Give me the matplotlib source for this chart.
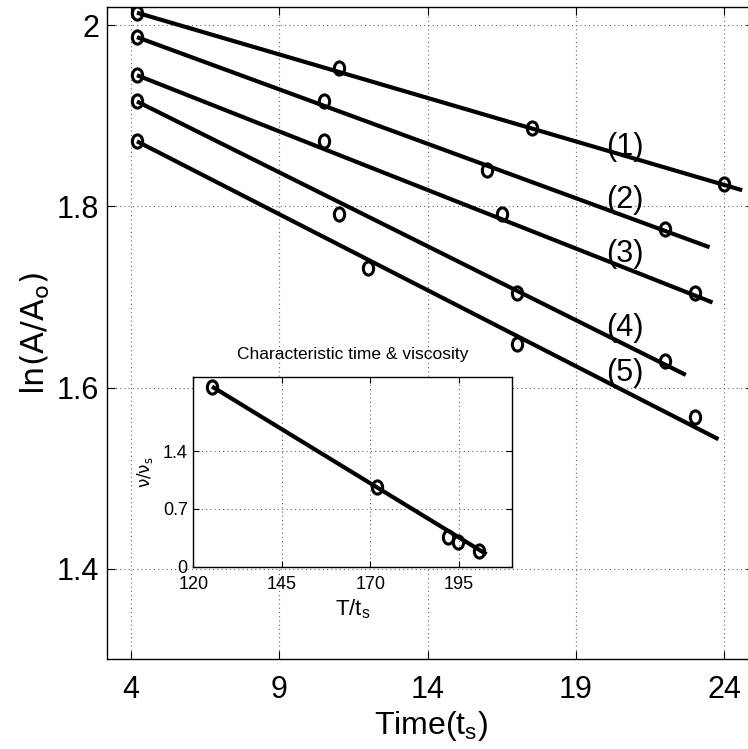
import matplotlib
matplotlib.use("Agg")
import matplotlib.pyplot as plt
from matplotlib.path import Path
from matplotlib.transforms import Affine2D
import numpy as np

# ---------------- data ----------------
s1_x = [4.2, 11.0, 17.5, 24.0]
s1_y = [2.014, 1.953, 1.887, 1.825]
s2_x = [4.2, 10.5, 16.0, 22.0]
s2_y = [1.987, 1.917, 1.840, 1.775]
s3_x = [4.2, 10.5, 16.5, 23.0]
s3_y = [1.945, 1.872, 1.792, 1.705]
s4_x = [4.2, 11.0, 17.0, 22.0]
s4_y = [1.916, 1.792, 1.705, 1.629]
s5_x = [4.2, 12.0, 17.0, 23.0]
s5_y = [1.872, 1.732, 1.648, 1.568]

# fitted straight lines: start / end points
fit_x0 = [4.2, 4.2, 4.2, 4.2, 4.2]
fit_y0 = [2.014, 1.987, 1.945, 1.916, 1.872]
fit_x1 = [24.6, 23.5, 23.6, 22.7, 23.8]
fit_y1 = [1.818, 1.755, 1.694, 1.614, 1.543]

curve_labels = ["(1)", "(2)", "(3)", "(4)", "(5)"]
label_x = [20.65, 20.65, 20.65, 20.65, 20.65]
label_y = [1.866, 1.807, 1.747, 1.666, 1.616]

main_xticks = [4, 9, 14, 19, 24]
main_yticks = [1.4, 1.6, 1.8, 2.0]
main_yticklabels = ["1.4", "1.6", "1.8", "2"]

# inset data
in_x = [125.3, 171.9, 192.0, 194.8, 200.7]
in_y = [2.18, 0.96, 0.36, 0.30, 0.19]
in_fit_x = [125.3, 202.8]
in_fit_y = [2.18, 0.15]
in_xticks = [120, 145, 170, 195]
in_yticks = [0, 0.7, 1.4]
in_yticklabels = ["0", "0.7", "1.4"]

# ---------------- style ----------------
plt.rcParams["font.family"] = ["Liberation Sans", "DejaVu Sans"]
plt.rcParams["mathtext.fontset"] = "custom"
plt.rcParams["mathtext.rm"] = "Liberation Sans"

# slightly tall ellipse marker (original figure was stretched vertically)
ell = Path.unit_circle().transformed(Affine2D().scale(0.78, 1.0))

grid_kw = dict(color="0.4", linestyle=(0, (1, 2.8)), linewidth=0.8)

fig = plt.figure(figsize=(7.48, 7.49), dpi=100)
ax = fig.add_axes([0.1434, 0.1198, 0.8647, 0.8705])

series = [(s1_x, s1_y), (s2_x, s2_y), (s3_x, s3_y), (s4_x, s4_y), (s5_x, s5_y)]
for i, (sx, sy) in enumerate(series):
    ax.plot([fit_x0[i], fit_x1[i]], [fit_y0[i], fit_y1[i]], color="black",
            linewidth=3.0, solid_capstyle="butt", zorder=3)
    ax.plot(sx, sy, linestyle="none", marker=ell, markersize=9.5,
            markerfacecolor="none", markeredgecolor="black",
            markeredgewidth=2.2, zorder=4)
    ax.text(label_x[i], label_y[i], curve_labels[i], fontsize=22,
            ha="center", va="center", zorder=5)

ax.set_xlim(3.2, 25)
ax.set_ylim(1.3, 2.02)
ax.set_xticks(main_xticks)
ax.set_xticklabels([str(t) for t in main_xticks])
ax.set_yticks(main_yticks)
ax.set_yticklabels(main_yticklabels)
ax.tick_params(direction="in", length=6, width=0.8, top=True, right=True,
               labelsize=22)
ax.tick_params(axis="x", pad=11)
ax.tick_params(axis="y", pad=6)
ax.grid(True, **grid_kw)
for sp in ax.spines.values():
    sp.set_linewidth(1.0)

ax.set_xlabel("Time(t$_\\mathregular{s}$)", fontsize=23, labelpad=3)
ax.set_ylabel("ln(A/A$_\\mathregular{o}$)", fontsize=23,
              family=["DejaVu Sans"], labelpad=3)

# ---------------- inset ----------------
axin = fig.add_axes([0.2584, 0.2434, 0.4261, 0.2537])
axin.set_facecolor("white")
axin.plot(in_fit_x, in_fit_y, color="black", linewidth=3.0,
          solid_capstyle="butt", zorder=3)
axin.plot(in_x, in_y, linestyle="none", marker=ell, markersize=9.5,
          markerfacecolor="none", markeredgecolor="black",
          markeredgewidth=2.2, zorder=4)
axin.set_xlim(120, 210)
axin.set_ylim(0, 2.3)
axin.set_xticks(in_xticks)
axin.set_xticklabels([str(t) for t in in_xticks])
axin.set_yticks(in_yticks)
axin.set_yticklabels(in_yticklabels)
axin.tick_params(direction="in", length=4, width=0.8, top=True, right=True,
                 labelsize=13)
axin.tick_params(axis="x", pad=7)
axin.tick_params(axis="y", pad=4)
axin.grid(True, **grid_kw)
for sp in axin.spines.values():
    sp.set_linewidth(1.0)
axin.set_title("Characteristic time & viscosity", fontsize=12.5, pad=13)
axin.set_xlabel("T/t$_\\mathregular{s}$", fontsize=16, labelpad=3)
axin.set_ylabel("ν/ν$_\\mathregular{s}$", fontsize=12,
                family=["DejaVu Sans"], labelpad=6)

fig.savefig("out.png", dpi=100)
